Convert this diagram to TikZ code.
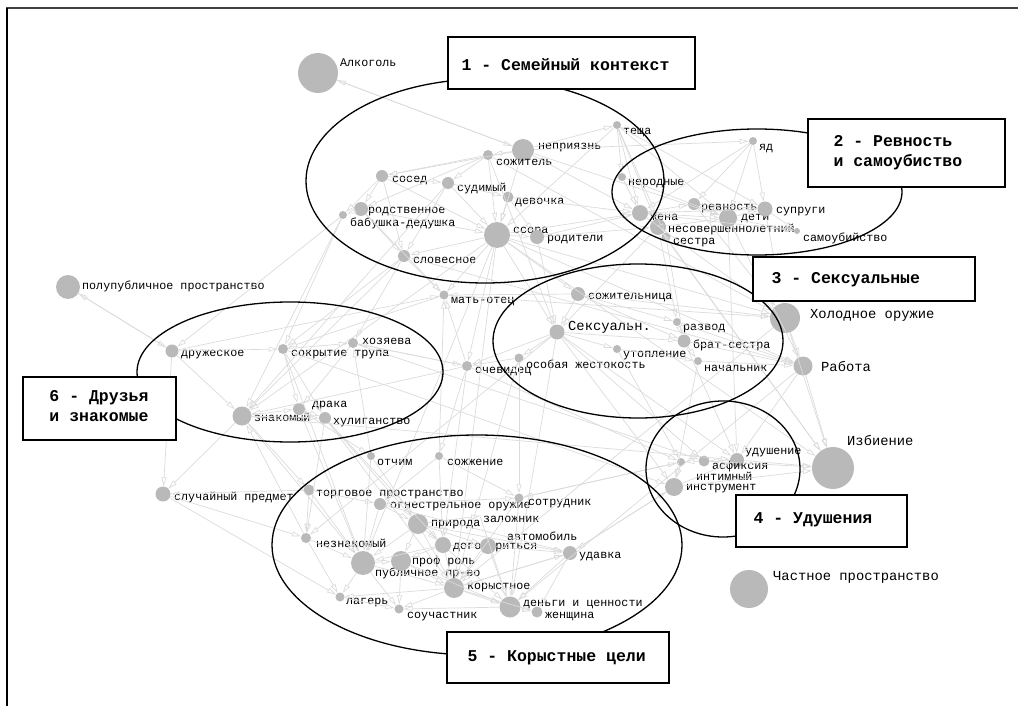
\documentclass[tikz,border=0pt]{standalone}
\usepackage{fontspec}
\setmonofont{Liberation Mono}
\usetikzlibrary{arrows.meta}
\newcommand{\lbfont}{\ttfamily\fontsize{11.7}{13}\selectfont}
\newcommand{\bgfont}{\ttfamily\fontsize{13.8}{15}\selectfont}
\newcommand{\bxfont}{\ttfamily\bfseries\fontsize{16.5}{20}\selectfont}
\begin{document}
\begin{tikzpicture}
      [x=1pt,y=-1pt
      ,vtx/.style={circle,fill=gray!55,inner sep=0pt,minimum size=#1}
      ,lbl/.style={font=\lbfont,anchor=west,inner sep=0pt}
      ,biglbl/.style={font=\bgfont,anchor=west,inner sep=0pt}
      ,edge/.style={color=gray!28,line width=.7pt,-{Triangle[open,length=9pt,width=5pt]}}
      ,grp/.style={black,line width=1.3pt}
      ,box/.style={draw=black,line width=1.4pt,fill=white}
      ]
        \useasboundingbox (0,0) rectangle (1018,706);
        \draw[line width=1.5pt,black!75] (6,8) -- (1018,8);
        \draw[line width=1.5pt] (7,8) -- (7,706);

        % vertices: name / x / y / size / label x / label y / text
        \foreach \n/\x/\y/\d/\lx/\ly/\t in {
            alk/318/73/40/340/63/Алкоголь,
            nepr/523/150/22/538/148/неприязнь,
            sozh/488/155/10/496/162/сожитель,
            tescha/617/125/8/623/133/теща,
            sosed/382/176/12/392/181/сосед,
            sudim/448/183/12/457/189/судимый,
            devoch/508/197/11/515/203/девочка,
            rodstv/361/209/14/368/212/родственное,
            babd/343/215/8/350/223/бабушка-дедушка,
            ssora/497/235/26/513/232/ссора,
            rodit/537/237/14/547/240/родители,
            slov/404/256/12/413/260/словесное,
            yad/753/141/8/759/149/яд,
            nerod/622/177/8/628/184/неродные,
            zhena/640/213/16/650/217/жена,
            nesov/658/227/16/668/230/несовершеннолетний,
            sestra/666/237/9/673/243/сестра,
            revn/694/204/12/701/209/ревность,
            deti/728/218/18/741/219/дети,
            suprugi/765/209/15/776/212/супруги,
            samoub/797/231/6/803/238/самоубийство,
            polupub/68/287/24/82/286/полупубличное пространство,
            druzh/172/351/13/181/355/дружеское,
            sokr/283/349/10/291/355/сокрытие трупа,
            hozy/353/343/10/362/341/хозяева,
            znak/242/416/19/254/417/знакомый,
            draka/299/409/12/312/406/драка,
            hulig/325/418/12/333/423/хулиганство,
            matot/444/295/9/451/302/мать-отец,
            ochev/467/366/10/475/372/очевидец,
            sozhn/578/294/14/588/298/сожительница,
            razvod/677/322/8/683/329/развод,
            bratsestra/684/341/13/693/345/брат-сестра,
            utopl/617/349/8/623/356/утопление,
            nachal/698/361/8/704/368/начальник,
            osob/519/358/9/526/364/особая жестокость,
            udush/737/460/14/745/453/удушение,
            asfik/704/461/11/712/466/асфиксия,
            intim/674/487/18/686/489/инструмент,
            sluch/163/494/15/174/498/случайный предмет,
            otchim/371/456/8/377/462/отчим,
            sozhzh/439/456/8/447/462/сожжение,
            torg/309/490/11/316/495/торговое пространство,
            ognestr/380/504/12/390/507/огнестрельное оружие,
            sotrud/519/498/9/528/504/сотрудник,
            priroda/418/524/20/431/525/природа,
            neznak/306/538/10/316/543/незнакомый,
            dogov/443/545/16/453/548/договориться,
            avto/488/546/16/507/536/автомобиль,
            udavka/570/553/14/579/557/удавка,
            publ/363/563/24/375/573/публичное пр-во,
            prof/401/561/20/412/561/проф роль,
            koryst/454/588/20/467/588/корыстное,
            lager/340/597/9/346/603/лагерь,
            souch/399/609/9/407/617/соучастник,
            dengi/510/607/21/523/605/деньги и ценности,
            zhensh/537/612/11/545/617/женщина}{
            \node[vtx=\d pt] (\n) at (\x,\y) {};
            \node[lbl] (\n-t) at (\lx,\ly) {\t};
        }
        \foreach \n/\x/\y/\d/\lx/\ly/\t in {
            seks/557/332/15/568/327/Сексуальн.,
            holod/785/318/30/810/315/Холодное оружие,
            rabota/803/366/19/821/367/Работа,
            izbien/833/468/42/847/441/Избиение,
            chastn/749/589/38/773/577/Частное пространство}{
            \node[vtx=\d pt] (\n) at (\x,\y) {};
            \node[biglbl] (\n-t) at (\lx,\ly) {\t};
        }
        \node[vtx=8pt] (small) at (681,462) {};
        \node[lbl] (intim-t2) at (696,476) {интимный};
        \coordinate (zalozh) at (480,516);
        \node[lbl] (zalozh-t) at (483,519) {заложник};

        % connections
        \foreach \a/\b in {
            alk/nepr, nepr/alk, nepr/tescha, nepr/sozh, nepr/sosed, nepr/ssora,
            nepr/zhena, nepr/deti, nepr/yad, sozh/sosed, sozh/sudim, sozh/ssora,
            sozh/rodstv, sozh/holod, tescha/zhena, tescha/nesov, tescha/nerod,
            tescha/sestra, tescha/deti, tescha/ssora, tescha/suprugi, sosed/rodstv,
            sosed/babd, sosed/slov, sosed/ssora, sosed/sudim, sudim/ssora,
            sudim/devoch, sudim/slov, sudim/znak, devoch/ssora, devoch/rodit,
            devoch/zhena, rodstv/babd, rodstv/slov, rodstv/ssora, rodstv/matot,
            babd/sokr, babd/druzh, babd/znak, ssora/rodit, ssora/slov, ssora/zhena,
            ssora/holod, ssora/izbien, ssora/rabota, ssora/seks, ssora/matot,
            ssora/ochev, ssora/koryst, ssora/publ, ssora/znak, ssora/sozhn,
            rodit/zhena, rodit/nesov, rodit/seks, slov/matot, slov/hozy, slov/znak,
            slov/sokr, yad/deti, yad/suprugi, yad/zhena, yad/revn, nerod/zhena,
            nerod/deti, zhena/revn, zhena/deti, zhena/suprugi, zhena/holod,
            zhena/samoub, nesov/deti, nesov/sestra, nesov/izbien, nesov/seks,
            nesov/razvod, sestra/bratsestra, revn/deti, revn/suprugi, deti/suprugi,
            deti/samoub, suprugi/samoub, suprugi/holod, revn/holod, deti/udush,
            sozhn/seks, sozhn/razvod, sozhn/holod, sozhn/matot, seks/osob,
            seks/utopl, seks/bratsestra, seks/ochev, seks/udush, seks/intim,
            seks/asfik, seks/neznak, seks/dengi, razvod/bratsestra, razvod/rabota,
            bratsestra/nachal, bratsestra/rabota, utopl/nachal, nachal/rabota,
            osob/ochev, osob/koryst, osob/sotrud, ochev/matot, ochev/hozy,
            ochev/znak, ochev/sozhzh, ochev/dogov, utopl/small, holod/izbien,
            holod/rabota, holod/koryst, rabota/izbien, rabota/udush, rabota/dengi,
            udush/asfik, asfik/small, intim/udush, intim/izbien, udush/izbien,
            asfik/izbien, small/intim, intim/udavka, udavka/intim, small/sotrud,
            torg/ognestr, torg/neznak, torg/publ, torg/sluch, ognestr/priroda,
            ognestr/publ, ognestr/sotrud, priroda/dogov, priroda/publ, priroda/prof,
            priroda/koryst, priroda/avto, neznak/publ, neznak/lager, neznak/znak,
            dogov/avto, dogov/koryst, dogov/prof, dogov/publ, dogov/dengi,
            avto/udavka, avto/koryst, avto/dengi, udavka/dengi, udavka/koryst,
            udavka/zhensh, publ/prof, publ/lager, publ/souch, publ/koryst,
            prof/koryst, prof/dengi, prof/souch, koryst/dengi, koryst/lager,
            koryst/souch, koryst/zhensh, dengi/zhensh, dengi/souch, lager/souch,
            sotrud/dengi, sotrud/koryst, otchim/priroda, otchim/publ, sozhzh/dogov,
            sozhzh/sotrud, sozhzh/ognestr, zalozh/dengi, priroda/zalozh,
            polupub/druzh, druzh/polupub, druzh/sokr, druzh/matot, druzh/znak,
            druzh/sluch, sokr/hozy, sokr/draka, sokr/hulig, sokr/publ, hozy/draka,
            hozy/ochev, znak/draka, znak/hulig, znak/torg, znak/publ, znak/sluch,
            draka/hulig, draka/publ, draka/otchim, hulig/koryst, hulig/priroda,
            hulig/neznak, sluch/neznak, sluch/lager, sokr/intim, znak/udush,
            hozy/asfik, matot/holod, slov/rabota, matot/sokr, otchim/hozy,
            sozhzh/matot, ochev/small, nachal/intim, bratsestra/udush,
            sozhn/bratsestra, sotrud/small, ognestr/udavka, priroda/udavka,
            koryst/udavka, hulig/dogov, sestra/izbien, deti/rabota, sozh/seks}{
            \draw[edge] (\a) -- (\b);
        }

        % groups
        \draw[grp] (485,181) ellipse [x radius=179, y radius=102];
        \draw[grp] (757,192) ellipse [x radius=145, y radius=63];
        \draw[grp] (638,341) ellipse [x radius=145, y radius=77];
        \draw[grp] (723,469) ellipse [x radius=77, y radius=68];
        \draw[grp] (477,545) ellipse [x radius=205, y radius=110];
        \draw[grp] (290,372) ellipse [x radius=153, y radius=70];

        \draw[box] (448,37) rectangle (695,89);
        \node[font=\bxfont,anchor=west] (g1) at (458,65) {1 - Семейный контекст};
        \draw[box] (808,119) rectangle (1005,187);
        \node[font=\bxfont,anchor=west,align=left] (g2) at (830,153) {2 - Ревность\\и самоубиство};
        \draw[box] (753,257) rectangle (975,301);
        \node[font=\bxfont,anchor=west] (g3) at (768,280) {3 - Сексуальные};
        \draw[box] (736,495) rectangle (907,547);
        \node[font=\bxfont,anchor=west] (g4) at (750,520) {4 - Удушения};
        \draw[box] (447,632) rectangle (669,683);
        \node[font=\bxfont,anchor=west] (g5) at (464,658) {5 - Корыстные цели};
        \draw[box] (23,377) rectangle (176,440);
        \node[font=\bxfont,align=center] (g6) at (99,406) {6 - Друзья\\и знакомые};
      \end{tikzpicture}
\end{document}
